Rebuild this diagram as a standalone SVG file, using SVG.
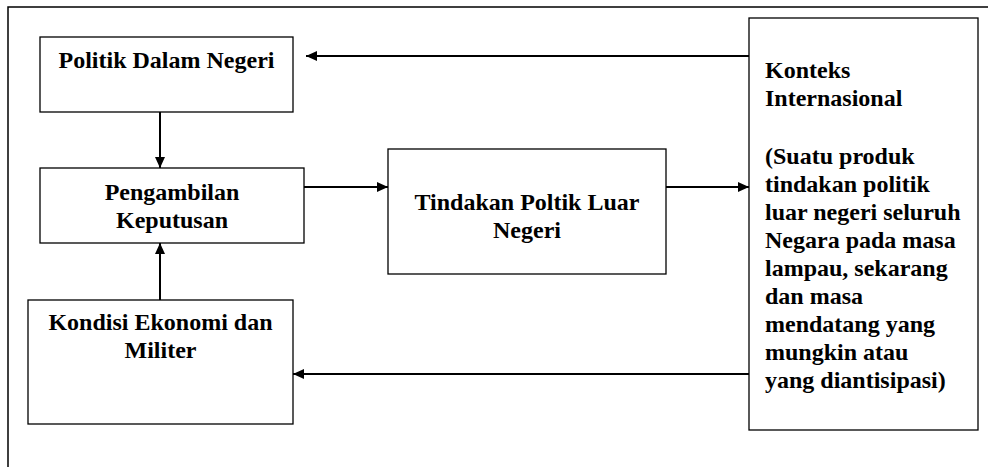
<svg xmlns="http://www.w3.org/2000/svg" width="988" height="467" viewBox="0 0 988 467">
<style>
.box{fill:#fff;stroke:#000;stroke-width:1.3}
.frame{fill:none;stroke:#000;stroke-width:1.5}
.con{fill:none;stroke:#000;stroke-width:2}
text{font-family:'Liberation Serif','DejaVu Serif',serif;font-weight:700;font-size:24px;fill:#000}
.c{text-anchor:middle}
</style>
<defs>
<marker id="ah" markerUnits="userSpaceOnUse" markerWidth="12" markerHeight="12" viewBox="0 0 12 12" refX="11" refY="6" orient="auto">
<path d="M0,1 L11,6 L0,11 z" fill="#000"/>
</marker>
</defs>
<path class="frame" d="M8,468 V7 H989"/>
<g id="n-politik-dalam-negeri">
<rect class="box" x="40" y="37" width="253" height="75"/>
<text class="c" x="166.5" y="68">Politik Dalam Negeri</text>
</g>
<g id="n-pengambilan-keputusan">
<rect class="box" x="40" y="168" width="264" height="75"/>
<text class="c" x="172" y="200">Pengambilan</text>
<text class="c" x="172" y="228">Keputusan</text>
</g>
<g id="n-kondisi">
<rect class="box" x="28" y="300" width="265" height="124"/>
<text class="c" x="160.5" y="330">Kondisi Ekonomi dan</text>
<text class="c" x="160.5" y="358">Militer</text>
</g>
<g id="n-tindakan">
<rect class="box" x="388" y="149" width="278" height="125"/>
<text class="c" x="527" y="210">Tindakan Poltik Luar</text>
<text class="c" x="527" y="238">Negeri</text>
</g>
<g id="n-konteks">
<rect class="box" x="749" y="18" width="229" height="412"/>
<text x="765" y="78">Konteks</text>
<text x="765" y="106">Internasional</text>
<text x="765" y="164">(Suatu produk</text>
<text x="765" y="192">tindakan politik</text>
<text x="765" y="220">luar negeri seluruh</text>
<text x="765" y="248">Negara pada masa</text>
<text x="765" y="276">lampau, sekarang</text>
<text x="765" y="304">dan masa</text>
<text x="765" y="332">mendatang yang</text>
<text x="765" y="360">mungkin atau</text>
<text x="765" y="388">yang diantisipasi)</text>
</g>
<g id="connectors">
<line class="con" x1="160" y1="112" x2="160" y2="168" marker-end="url(#ah)"/>
<line class="con" x1="160" y1="300" x2="160" y2="243" marker-end="url(#ah)"/>
<line class="con" x1="304" y1="187" x2="388" y2="187" marker-end="url(#ah)"/>
<line class="con" x1="666" y1="187" x2="749" y2="187" marker-end="url(#ah)"/>
<line class="con" x1="749" y1="56" x2="306" y2="56" marker-end="url(#ah)"/>
<line class="con" x1="749" y1="374" x2="293" y2="374" marker-end="url(#ah)"/>
</g>
</svg>
